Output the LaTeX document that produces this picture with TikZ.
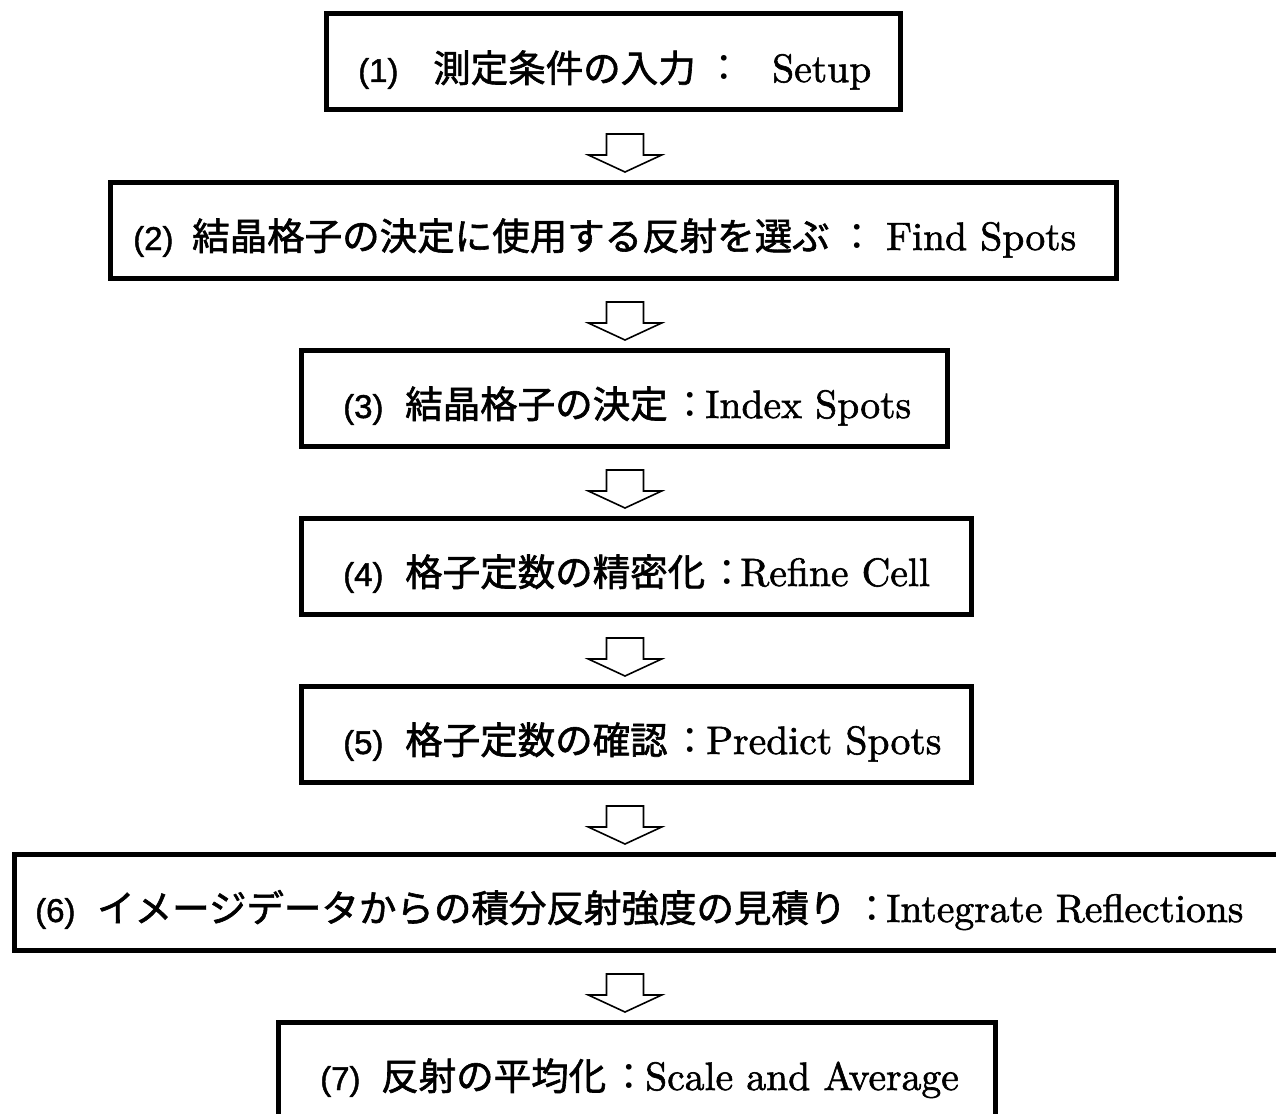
\documentclass[tikz,border=0pt]{standalone}
\usepackage{fontspec}
\newfontfamily\numfont{Liberation Sans}[FakeBold=1.4]
\newfontfamily\cjk{Noto Sans CJK JP}[FakeBold=1.6]
\newfontfamily\cjkcolon{Noto Sans CJK JP}
\newfontfamily\enfont{lmroman10-regular.otf}[FakeBold=1.5]
\usetikzlibrary{calc}
\begin{document}
\begin{tikzpicture}[x=1pt,y=-1pt,
  stepbox/.style={draw, line width=5pt, inner sep=0pt, outer sep=0pt, anchor=north west, minimum height=96},
  num/.style={anchor=base west, inner sep=0pt, font=\fontsize{33}{33}\selectfont\numfont},
  jp/.style={anchor=base west, inner sep=0pt, font=\fontsize{37.5}{38}\selectfont\cjk},
  colon/.style={anchor=base, inner sep=0pt, font=\fontsize{37.5}{38}\selectfont\cjkcolon},
  en/.style={anchor=base west, inner sep=0pt, font=\fontsize{39.6}{40}\selectfont\enfont},
  flow/.style={line width=1.6pt, line join=miter, fill=white},
  hollow/.pic={\draw[flow] (-18.5,24) -- (18.5,24) -- (18.5,45) -- (36.7,45) -- (0,62) -- (-36.7,45) -- (-18.5,45) -- cycle;}]
\useasboundingbox (0,0) rectangle (1276,1113);
\coordinate (ax) at (625,0);
% boxes
\node[stepbox, minimum width=574] (b1) at (326.5,14) {};
\node[stepbox, minimum width=1006] (b2) at (110.5,182) {};
\node[stepbox, minimum width=646] (b3) at (301.5,350) {};
\node[stepbox, minimum width=670] (b4) at (301.5,518) {};
\node[stepbox, minimum width=670] (b5) at (301.5,686) {};
\node[stepbox, minimum width=1300] (b6) at (14,854) {};
\node[stepbox, minimum width=717] (b7) at (278.5,1022) {};
% texts
\node[num] (n1) at (358,82) {(1)};
\node[jp] (j1) at (433,82) {測定条件の入力};
\node[colon] (c1) at (724,82) {：};
\node[en] (e1) at (772,82) {Setup};
\node[num] (n2) at (133,250) {(2)};
\node[jp] (j2) at (192,250) {結晶格子の決定に使用する反射を選ぶ};
\node[colon] (c2) at (857,250) {：};
\node[en] (e2) at (886,250) {Find Spots};
\node[num] (n3) at (343,418) {(3)};
\node[jp] (j3) at (405,418) {結晶格子の決定};
\node[colon] (c3) at (690,418) {：};
\node[en] (e3) at (705,418) {Index Spots};
\node[num] (n4) at (343,586) {(4)};
\node[jp] (j4) at (405,586) {格子定数の精密化};
\node[colon] (c4) at (727,586) {：};
\node[en] (e4) at (740,586) {Refine Cell};
\node[num] (n5) at (343,754) {(5)};
\node[jp] (j5) at (405,754) {格子定数の確認};
\node[colon] (c5) at (690,754) {：};
\node[en] (e5) at (706,754) {Predict Spots};
\node[num] (n6) at (35,922) {(6)};
\node[jp] (j6) at (97,922) {イメージデータからの積分反射強度の見積り};
\node[colon] (c6) at (872,922) {：};
\node[en] (e6) at (886,922) {Integrate Reflections};
\node[num] (n7) at (320,1090) {(7)};
\node[jp] (j7) at (381,1090) {反射の平均化};
\node[colon] (c7) at (629,1090) {：};
\node[en] (e7) at (645,1090) {Scale and Average};
% hollow arrows between boxes
\pic at (b1.south -| ax) {hollow};
\pic at (b2.south -| ax) {hollow};
\pic at (b3.south -| ax) {hollow};
\pic at (b4.south -| ax) {hollow};
\pic at (b5.south -| ax) {hollow};
\pic at (b6.south -| ax) {hollow};
\end{tikzpicture}
\end{document}
